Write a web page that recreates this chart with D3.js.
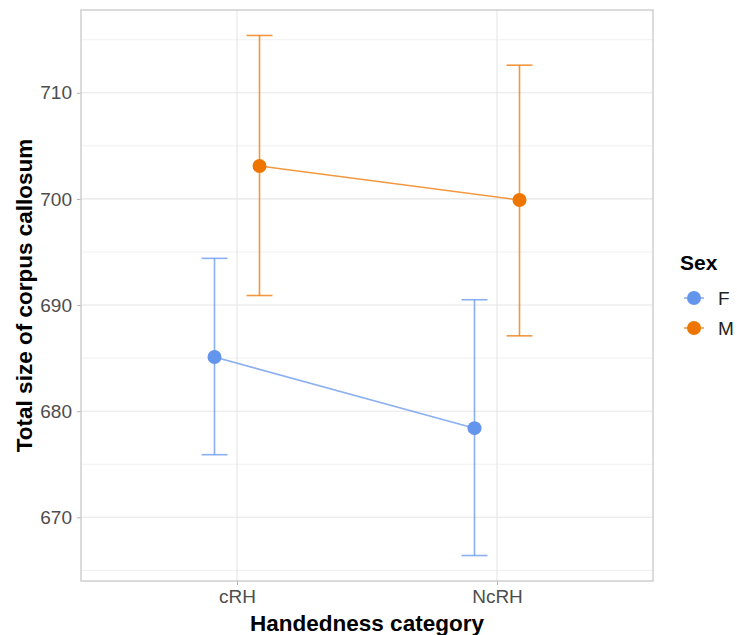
<!DOCTYPE html>
<html><head><meta charset="utf-8">
<script src="https://cdn.jsdelivr.net/npm/d3@7"></script>
<style>body{margin:0;background:#fff}svg{display:block}</style>
</head><body><svg id="c" width="737" height="635"></svg>
<script>
const categories = ["cRH", "NcRH"];
const sexes = ["F", "M"];
const meanF = [685.1, 678.4];
const lowF  = [675.9, 666.4];
const highF = [694.4, 690.5];
const meanM = [703.1, 699.9];
const lowM  = [690.9, 687.1];
const highM = [715.4, 712.6];
const yTicks = [670, 680, 690, 700, 710];
const yMinor = [665, 675, 685, 695, 705, 715];

const colors = {F: "#6495ED", M: "#EE7600"};
const series = [
  {sex: "F", mean: meanF, low: lowF, high: highF},
  {sex: "M", mean: meanM, low: lowM, high: highM}
];

const svg = d3.select("#c");
const L = 81, R = 653, T = 10, B = 581;
const x = d3.scalePoint().domain(categories).range([L, R]).padding(0.6);
const y = d3.scaleLinear().domain([664.0, 717.8]).range([B, T]);
const dodge = d3.scalePoint().domain(sexes).range([-22.5, 22.5]);
const font = "Liberation Sans, Arial, sans-serif";

const g = svg.append("g");
g.selectAll(".ymin").data(yMinor).join("line")
  .attr("x1", L).attr("x2", R).attr("y1", d => y(d)).attr("y2", d => y(d))
  .attr("stroke", "#f0f0f0").attr("stroke-width", 1);
g.selectAll(".ymaj").data(yTicks).join("line")
  .attr("x1", L).attr("x2", R).attr("y1", d => y(d)).attr("y2", d => y(d))
  .attr("stroke", "#e6e6e6").attr("stroke-width", 1.1);
g.selectAll(".xmaj").data(categories).join("line")
  .attr("x1", d => x(d)).attr("x2", d => x(d)).attr("y1", T).attr("y2", B)
  .attr("stroke", "#e6e6e6").attr("stroke-width", 1.1);

const ya = svg.append("g").attr("transform", `translate(${L},0)`)
  .call(d3.axisLeft(y).tickValues(yTicks).tickSize(4).tickPadding(5));
const xa = svg.append("g").attr("transform", `translate(0,${B})`)
  .call(d3.axisBottom(x).tickSize(4).tickPadding(5));
[ya, xa].forEach(a => {
  a.select(".domain").remove();
  a.selectAll(".tick line").attr("stroke", "#b3b3b3");
  a.selectAll(".tick text").attr("fill", "#4d4d4d")
    .style("font-family", font).style("font-size", "19px");
});

svg.append("rect").attr("x", L).attr("y", T).attr("width", R - L).attr("height", B - T)
  .attr("fill", "none").attr("stroke", "#c8c8c8").attr("stroke-width", 1.3);

series.forEach(s => {
  const c = colors[s.sex];
  const px = i => x(categories[i]) + dodge(s.sex);
  const sg = svg.append("g");
  const line = d3.line().x((d, i) => px(i)).y(d => y(d));
  sg.append("path").datum(s.mean).attr("d", line).attr("fill", "none")
    .attr("stroke", c).attr("stroke-opacity", 0.75).attr("stroke-width", 1.6);
  categories.forEach((cat, i) => {
    const cx = px(i);
    sg.append("line").attr("x1", cx).attr("x2", cx).attr("y1", y(s.low[i])).attr("y2", y(s.high[i]))
      .attr("stroke", c).attr("stroke-opacity", 0.75).attr("stroke-width", 1.6);
    [s.low[i], s.high[i]].forEach(v => {
      sg.append("line").attr("x1", cx - 13).attr("x2", cx + 13).attr("y1", y(v)).attr("y2", y(v))
        .attr("stroke", c).attr("stroke-opacity", 0.75).attr("stroke-width", 1.6);
    });
  });
  sg.selectAll("circle").data(s.mean).join("circle")
    .attr("cx", (d, i) => px(i)).attr("cy", d => y(d)).attr("r", 7).attr("fill", c);
});

svg.append("text").attr("x", (L + R) / 2).attr("y", 631).attr("text-anchor", "middle")
  .style("font-family", font).style("font-size", "22.5px").style("font-weight", "bold")
  .attr("fill", "#000").text("Handedness category");
svg.append("text").attr("transform", `translate(32,${(T + B) / 2}) rotate(-90)`)
  .attr("text-anchor", "middle")
  .style("font-family", font).style("font-size", "22.5px").style("font-weight", "bold")
  .attr("fill", "#000").text("Total size of corpus callosum");

const lg = svg.append("g").attr("transform", "translate(680,0)");
lg.append("text").attr("x", 0).attr("y", 270).style("font-family", font)
  .style("font-size", "21px").style("font-weight", "bold").text("Sex");
sexes.forEach((s, i) => {
  const cy = 298 + i * 30;
  lg.append("line").attr("x1", 4).attr("x2", 24).attr("y1", cy).attr("y2", cy)
    .attr("stroke", colors[s]).attr("stroke-opacity", 0.75).attr("stroke-width", 1.6);
  lg.append("circle").attr("cx", 14).attr("cy", cy).attr("r", 7).attr("fill", colors[s]);
  lg.append("text").attr("x", 38).attr("y", cy + 7).style("font-family", font)
    .style("font-size", "19px").attr("fill", "#222").text(s);
});
</script></body></html>
